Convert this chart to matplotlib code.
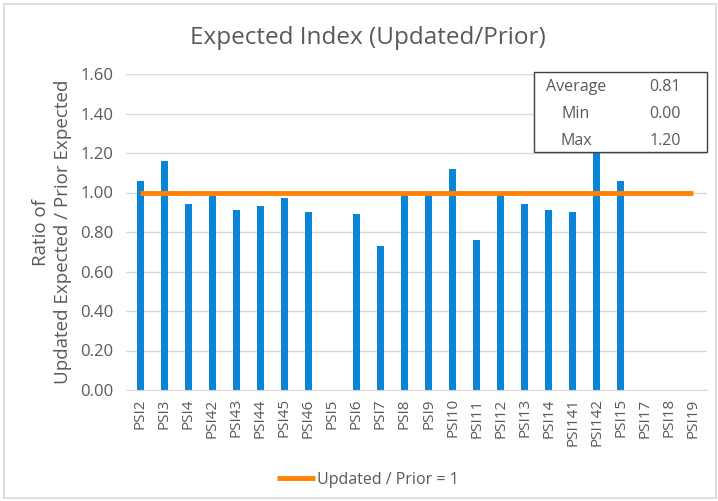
import matplotlib
matplotlib.use("Agg")
import matplotlib.pyplot as plt
from matplotlib.patches import Rectangle

categories = ["PSI2", "PSI3", "PSI4", "PSI42", "PSI43", "PSI44", "PSI45", "PSI46", "PSI5", "PSI6",
              "PSI7", "PSI8", "PSI9", "PSI10", "PSI11", "PSI12", "PSI13", "PSI14", "PSI141", "PSI142",
              "PSI15", "PSI17", "PSI18", "PSI19"]
ratios = [1.06, 1.16, 0.94, 0.98, 0.91, 0.93, 0.97, 0.90, 0.00, 0.89,
          0.73, 0.99, 0.99, 1.12, 0.76, 0.99, 0.94, 0.91, 0.90, 1.20,
          1.06, 0.00, 0.00, 0.00]
reference = [1.0] * len(categories)
stats_labels = ["Average", "Min", "Max"]
stats_values = ["0.81", "0.00", "1.20"]
y_ticks = [0.0, 0.2, 0.4, 0.6, 0.8, 1.0, 1.2, 1.4, 1.6]

plt.rcParams["font.family"] = ["Open Sans", "DejaVu Sans"]
grey = "#595959"
blue = "#0984D6"
orange = "#FF8200"

fig = plt.figure(figsize=(7.18, 5.01), dpi=100)
fig.patches.append(Rectangle((4 / 718, 3 / 501), 712 / 718, 494 / 501, transform=fig.transFigure,
                             fill=False, edgecolor="#D9D9D9", lw=1.2))
ax = fig.add_axes([126 / 718, 1 - 390 / 501, 581 / 718, 316 / 501])

x = range(len(categories))
ax.bar(x, ratios, width=0.3, color=blue, zorder=2)
ax.plot(x, reference, color=orange, lw=3.5, solid_capstyle="butt", zorder=3, label="Updated / Prior = 1")

ax.set_xlim(-0.6, len(categories) - 0.4)
ax.set_ylim(0, 1.6)
ax.set_yticks(y_ticks)
ax.set_yticklabels([f"{v:.2f}" for v in y_ticks], color=grey, fontsize=12)
ax.set_xticks(list(x))
ax.set_xticklabels(categories, rotation=90, color=grey, fontsize=11)
ax.tick_params(axis="x", length=0, pad=6)
ax.tick_params(axis="y", length=0, pad=9)
ax.grid(axis="y", color="#D9D9D9", lw=1, zorder=0)
ax.set_axisbelow(True)
for side in ["top", "right", "left"]:
    ax.spines[side].set_visible(False)
ax.spines["bottom"].set_color("#D9D9D9")

ax.set_ylabel("Ratio of\nUpdated Expected / Prior Expected", color=grey, fontsize=13.5, labelpad=6,
              linespacing=1.25)
fig.text(368 / 718, 1 - 38 / 501, "Expected Index (Updated/Prior)", ha="center", va="center",
         color=grey, fontsize=17.5)

# stats box
box = Rectangle((534 / 718, 1 - 152 / 501), 173 / 718, 80 / 501, transform=fig.transFigure,
                facecolor="white", edgecolor="#404040", lw=1, zorder=5)
fig.patches.append(box)
for i, (lab, val) in enumerate(zip(stats_labels, stats_values)):
    yy = 1 - (87 + i * 27) / 501
    fig.text(576 / 718, yy, lab, ha="center", va="center", color=grey, fontsize=11.5, zorder=6)
    fig.text(681 / 718, yy, val, ha="right", va="center", color=grey, fontsize=11.5, zorder=6)

fig.legend(loc="center", bbox_to_anchor=(368 / 718, 1 - 480 / 501), frameon=False, fontsize=11.5,
           labelcolor=grey, handlelength=2.4, handletextpad=0.15)

fig.savefig("out.png", dpi=100)
